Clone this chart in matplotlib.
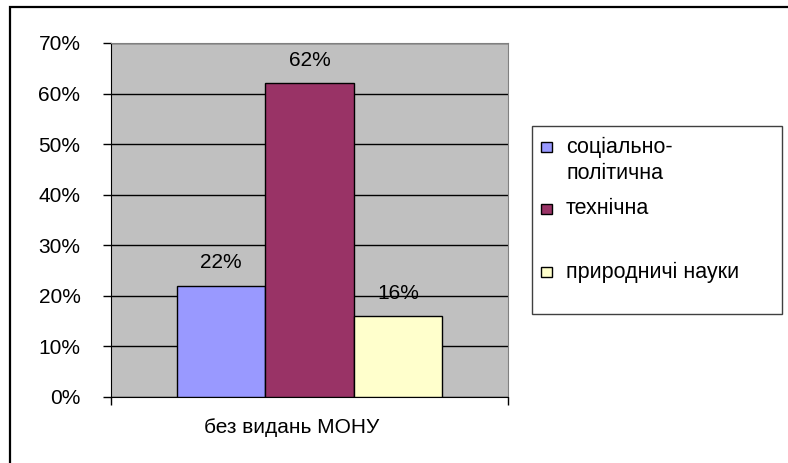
import matplotlib.pyplot as plt
from matplotlib.patches import Rectangle
from matplotlib.ticker import PercentFormatter
from matplotlib.transforms import ScaledTranslation

plt.rcParams['font.family'] = ['Liberation Sans', 'DejaVu Sans']

# ----------------------------
# Data
# ----------------------------
group_label = "без видань МОНУ"
categories = ["соціально-\nполітична", "технічна", "природничі науки"]
values = [0.22, 0.62, 0.16]
colors = ["#9999FF", "#993366", "#FFFFCC"]
y_ticks = [0.0, 0.1, 0.2, 0.3, 0.4, 0.5, 0.6, 0.7]

FS = 15
W, H = 788, 463
fig = plt.figure(figsize=(W / 100, H / 100), dpi=100)


def fx(x):
    return x / W


def fy(y):
    return 1 - y / H


# plot area in pixels: x 111..508, y 43..397
ax = fig.add_axes([fx(111), fy(397), fx(508) - fx(111), fy(43) - fy(397)])
ax.set_facecolor("#C0C0C0")

positions = [i - (len(values) - 1) / 2 for i in range(len(values))]
ax.bar(positions, values, width=1.0, color=colors,
       edgecolor="black", linewidth=1, zorder=3)

# value labels above the bars
for x, v in zip(positions, values):
    ax.annotate(f"{v:.0%}", (x, v), xytext=(0, 16.5), textcoords="offset points",
                ha="center", va="center", fontsize=FS, zorder=4)

ax.set_ylim(0, 0.7)
ax.set_xlim(-2.245, 2.245)
ax.set_yticks(y_ticks)
ax.yaxis.set_major_formatter(PercentFormatter(1.0, decimals=0))
ax.grid(axis="y", color="#000000", linewidth=1, zorder=1)
ax.tick_params(axis="y", length=6, width=1, direction="out", pad=16, labelsize=FS)

# category label and boundary ticks on the x axis
ax.set_xticks([0])
ax.set_xticklabels([group_label])
ax.set_xticks([-2.245, 2.245], minor=True)
ax.tick_params(axis="x", which="major", length=0, pad=15, labelsize=FS)
ax.tick_params(axis="x", which="minor", length=6, width=1, direction="out")
for lbl in ax.get_xticklabels():
    lbl.set_transform(lbl.get_transform() + ScaledTranslation(-0.18, 0, fig.dpi_scale_trans))

ax.spines["left"].set_color("black")
ax.spines["bottom"].set_color("black")
ax.spines["top"].set_color("#808080")
ax.spines["right"].set_color("#808080")

# ----------------------------
# Legend box (drawn by hand to keep Excel-like slots)
# ----------------------------
fig.patches.append(Rectangle((fx(532), fy(314)), fx(782) - fx(532), fy(126) - fy(314),
                             transform=fig.transFigure, facecolor="white",
                             edgecolor="#404040", linewidth=1))
slot_centers = [147, 208.5, 271.5]
for label, color, yc in zip(categories, colors, slot_centers):
    fig.patches.append(Rectangle((fx(541), fy(yc + 5)), fx(11), 10 / H,
                                 transform=fig.transFigure, facecolor=color,
                                 edgecolor="black", linewidth=1))
    fig.text(fx(566), fy(yc - 10), label, ha="left", va="top",
             fontsize=15.5, linespacing=1.3)

# outer chart frame (runs off the right and bottom edges)
fig.patches.append(Rectangle((fx(10), -0.05), 1.2, fy(7) + 0.05,
                             transform=fig.transFigure, fill=False,
                             edgecolor="black", linewidth=1.6))

fig.savefig("out.png", dpi=100)
